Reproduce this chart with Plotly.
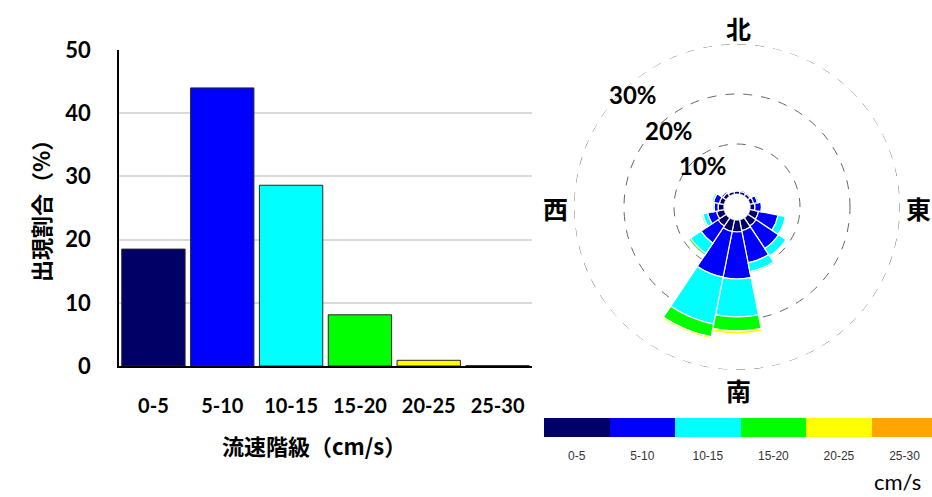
import plotly.graph_objects as go

# ---------------- data ----------------
speed_classes = ["0-5", "5-10", "10-15", "15-20", "20-25", "25-30"]
class_share = [18.5, 44.0, 28.6, 8.1, 0.9, 0.05]
class_colors = ["#000066", "#0000FF", "#00FFFF", "#00FF00", "#FFFF00", "#FFA500"]

directions = ["N", "NNE", "NE", "ENE", "E", "ESE", "SE", "SSE",
              "S", "SSW", "SW", "WSW", "W", "WNW", "NW", "NNW"]
dir_angles = [0, 22.5, 45, 67.5, 90, 112.5, 135, 157.5,
              180, 202.5, 225, 247.5, 270, 292.5, 315, 337.5]
rose_0_5 = [0.6, 0.6, 0.6, 0.8, 1.0, 1.8, 2.0, 2.2, 2.4, 2.4, 2.0, 1.6, 1.2, 1.0, 0.8, 0.6]
rose_5_10 = [0.2, 0.3, 0.3, 0.8, 1.3, 4.0, 5.4, 6.6, 9.4, 9.3, 4.1, 1.8, 0.8, 1.2, 0.4, 0.2]
rose_10_15 = [0.1, 0.1, 0.2, 0.3, 0.2, 1.5, 1.8, 1.8, 7.6, 9.6, 2.5, 1.0, 0.3, 0.4, 0.1, 0.0]
rose_15_20 = [0, 0, 0, 0, 0, 0.1, 0.2, 0.3, 2.8, 2.6, 0.4, 0.3, 0.1, 0.1, 0, 0]
rose_20_25 = [0, 0, 0, 0, 0, 0, 0, 0, 0.6, 0.4, 0, 0, 0, 0, 0, 0]
rose_25_30 = [0] * 16
rose_series = [rose_0_5, rose_5_10, rose_10_15, rose_15_20, rose_20_25, rose_25_30]

ring_values = [10, 20, 30]
ring_labels = ["10%", "20%", "30%"]
compass_labels = ["北", "東", "南", "西"]

W, H = 932, 497
def px(x): return x / W
def py(y): return (H - y) / H

JP = "Noto Sans CJK JP"
NUM = "Lato"

fig = go.Figure()

# ---------------- bar chart ----------------
fig.add_trace(go.Bar(
    x=speed_classes, y=class_share,
    marker=dict(color=class_colors, line=dict(color="#262626", width=1)),
    xaxis="x", yaxis="y", showlegend=False, hoverinfo="x+y",
))

# ---------------- rose ----------------
for name, vals, col in zip(speed_classes, rose_series, class_colors):
    fig.add_trace(go.Barpolar(
        r=vals, theta=dir_angles, width=[22.5] * 16, name=name,
        marker=dict(color=col, line=dict(color="white", width=1.2)),
        subplot="polar", showlegend=False,
    ))

# outer dashed ring (the 30 % circle at the edge of the radial range)
ring_theta = [i * 2 for i in range(181)]
fig.add_trace(go.Scatterpolar(
    r=[ring_values[-1]] * len(ring_theta), theta=ring_theta, mode="lines",
    line=dict(color="#666666", width=1, dash="dash"),
    subplot="polar", showlegend=False, hoverinfo="skip",
))

# ---------------- colour legend strip ----------------
strip_scale = sum([[[i / 6, c], [(i + 1) / 6, c]] for i, c in enumerate(class_colors)], [])
fig.add_trace(go.Heatmap(
    x=speed_classes, y=[0], z=[[0, 1, 2, 3, 4, 5]],
    zmin=-0.5, zmax=5.5, colorscale=strip_scale,
    showscale=False, xaxis="x3", yaxis="y3", hoverinfo="skip",
))

fig.update_layout(
    width=W, height=H,
    margin=dict(l=0, r=0, t=0, b=0, autoexpand=False),
    paper_bgcolor="white", plot_bgcolor="white",
    showlegend=False,
    bargap=0.08,
    xaxis=dict(domain=[px(119), px(532)], anchor="y", automargin=False,
               showline=True, linecolor="black", linewidth=1.5,
               ticks="", tickfont=dict(family=NUM, size=20, color="black", weight="bold"),
               ticklabelstandoff=21, fixedrange=True),
    yaxis=dict(domain=[py(366), py(50)], anchor="x", range=[0, 50], dtick=10, automargin=False,
               showline=True, linecolor="black", linewidth=1.5,
               showgrid=True, gridcolor="#d9d9d9", gridwidth=1.5,
               ticks="", tickfont=dict(family=NUM, size=22, color="black", weight="bold"),
               ticklabelstandoff=22, zeroline=False, fixedrange=True),
    polar=dict(
        domain=dict(x=[px(574), px(900)], y=[py(370), py(44)]),
        bgcolor="white", hole=13 / 163,
        radialaxis=dict(range=[0, 30], tickvals=ring_values, showticklabels=False,
                        ticks="", showline=False, showgrid=True,
                        gridcolor="#666666", gridwidth=1, griddash="dash"),
        angularaxis=dict(rotation=90, direction="clockwise", showgrid=False,
                         showticklabels=False, ticks="", showline=False),
    ),
    xaxis3=dict(domain=[px(544), 1.0], anchor="y3", range=[-0.5, 5.42], automargin=False,
                ticks="", showline=False, showgrid=False,
                tickfont=dict(family="Liberation Sans", size=12, color="#333333"),
                ticklabelstandoff=10, fixedrange=True),
    yaxis3=dict(domain=[py(437), py(418)], anchor="x3", visible=False, fixedrange=True,
                automargin=False),
)

def label(x, y, text, font, angle=0):
    return dict(x=px(x), y=py(y), xref="paper", yref="paper", text=text,
                xanchor="center", yanchor="middle", textangle=angle,
                showarrow=False, font=font)

ann = []
ann.append(label(40, 206, "<b>出現割合（%）</b>", dict(family=JP, size=22, color="black"), -90))
ann.append(label(314, 445, "<b>流速階級（cm/s）</b>", dict(family=JP, size=22, color="black")))
compass_pos = [(738, 28), (918, 208), (738, 390), (555, 208)]
for t, (x, y) in zip(compass_labels, compass_pos):
    ann.append(label(x, y, f"<b>{t}</b>", dict(family=JP, size=25, color="black")))
ring_pos = [(703, 166), (669, 131), (633, 94)]
for t, (x, y) in zip(ring_labels, ring_pos):
    ann.append(label(x, y, f"<b>{t}</b>", dict(family=NUM, size=24, color="black")))
ann.append(label(897, 481, "cm/s", dict(family=NUM, size=22, color="black")))
fig.update_layout(annotations=ann)

fig.write_html("out.html")
